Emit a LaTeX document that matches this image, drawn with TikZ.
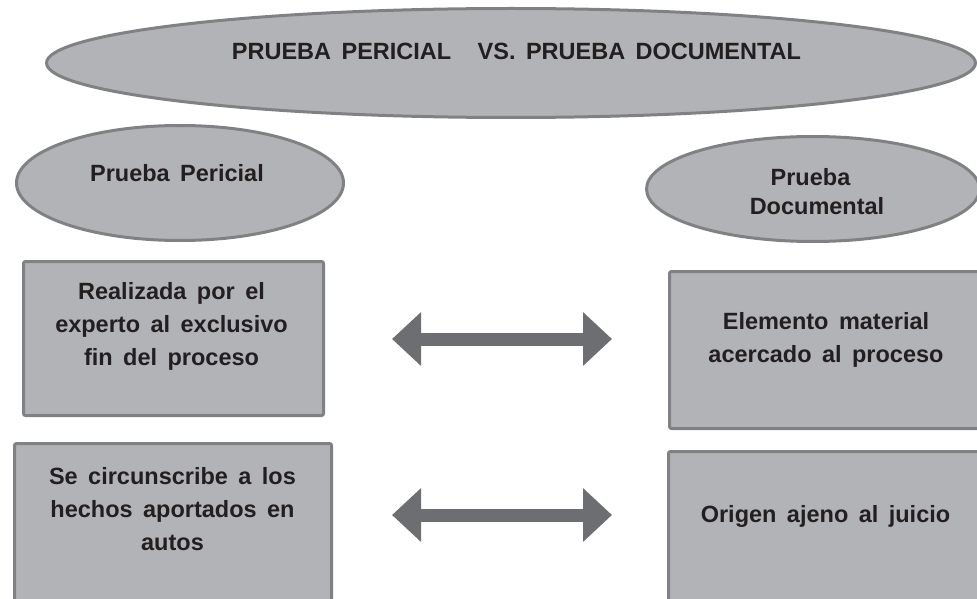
\documentclass[tikz,border=0pt]{standalone}
\usepackage{fontspec}
\setmainfont{Liberation Sans}[WordSpace=1.6]
\usetikzlibrary{shapes.geometric,arrows.meta}
\definecolor{boxfill}{RGB}{178,179,183}
\definecolor{boxline}{RGB}{128,129,132}
\definecolor{arrowgray}{RGB}{109,110,113}
\definecolor{txt}{RGB}{35,31,32}
\begin{document}
\begin{tikzpicture}[x=1pt,y=-1pt,
  oval/.style={ellipse, draw=boxline, fill=boxfill, line width=3pt, inner sep=0pt},
  card/.style={rectangle, draw=boxline, fill=boxfill, line width=3pt, rounded corners=2pt, inner sep=0pt},
  lbl/.style={text=txt, font=\bfseries\fontsize{23.5}{33}\selectfont, align=center, anchor=base, inner sep=0pt},
  twoway/.style={{Triangle[length=29pt,width=52pt]}-{Triangle[length=29pt,width=52pt]}, line width=13pt, draw=arrowgray}]
\useasboundingbox (0,0) rectangle (977,599);
\clip (0,0) rectangle (977,599);
% ellipses
\node[oval, minimum width=929pt, minimum height=109pt] (top) at (511,63) {};
\node[oval, minimum width=327pt, minimum height=115pt] (lell) at (180,183) {};
\node[oval, minimum width=333pt, minimum height=105pt] (rell) at (813,189) {};
% boxes
\node[card, minimum width=300pt, minimum height=154pt] (lb1) at (173.5,338.5) {};
\node[card, minimum width=317pt, minimum height=170pt] (lb2) at (173,528.5) {};
\node[card, minimum width=313pt, minimum height=157pt] (rb1) at (826,350) {};
\node[card, minimum width=315pt, minimum height=170pt] (rb2) at (826,536.5) {};
% texts (base anchor = baseline of the last line)
\node[lbl] (ttop) at (516.5,60) {PRUEBA PERICIAL\hspace{16pt} VS. PRUEBA DOCUMENTAL};
\node[lbl] (tlell) at (177,181) {Prueba Pericial};
\node[lbl, font=\bfseries\fontsize{23.5}{29}\selectfont] (trell) at (817,214) {Prueba\hspace*{13pt}\\Documental};
\node[lbl] (tlb1) at (171.5,365) {Realizada por el\\experto al exclusivo\\fin del proceso};
\node[lbl] (tlb2) at (172.5,550) {Se circunscribe a los\\hechos aportados en\\autos};
\node[lbl] (trb1) at (826,362) {Elemento material\\acercado al proceso};
\node[lbl] (trb2) at (825.5,522) {Origen ajeno al juicio};
% arrows
\coordinate (a1l) at (392,339);
\coordinate (a1r) at (612,339);
\coordinate (a2l) at (392,515);
\coordinate (a2r) at (612,515);
\draw[twoway] (a1l) -- (a1r);
\draw[twoway] (a2l) -- (a2r);
\end{tikzpicture}
\end{document}
